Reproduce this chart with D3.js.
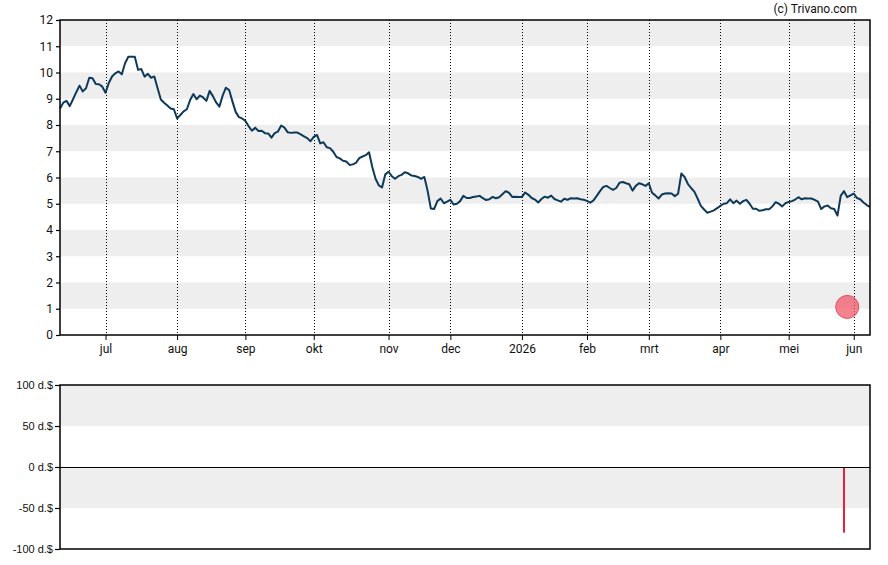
<!DOCTYPE html>
<html>
<head>
<meta charset="utf-8">
<script src="https://cdn.jsdelivr.net/npm/d3@7"></script>
<style>
  body { margin: 0; background: #fff; }
  svg { display: block; }
</style>
</head>
<body>
<script>
// slotkoersen per handelsdag (ca. 10 jun 2025 t/m 8 jun 2026)
const prices = [
  8.63, 8.85, 8.92, 8.72, 8.98, 9.25, 9.50, 9.28, 9.40, 9.80,
  9.78, 9.56, 9.55, 9.46, 9.23, 9.60, 9.85, 9.97, 10.04, 9.93,
  10.35, 10.60, 10.60, 10.60, 10.10, 10.13, 9.84, 9.95, 9.80, 9.85,
  9.40, 8.97, 8.85, 8.74, 8.63, 8.60, 8.25, 8.38, 8.52, 8.60,
  8.95, 9.18, 8.98, 9.12, 9.05, 8.92, 9.30, 9.10, 8.86, 8.70,
  9.12, 9.42, 9.33, 8.90, 8.50, 8.30, 8.25, 8.15, 7.95, 7.78,
  7.90, 7.77, 7.78, 7.69, 7.68, 7.52, 7.69, 7.75, 7.98, 7.90,
  7.72, 7.70, 7.71, 7.71, 7.64, 7.57, 7.50, 7.38, 7.55, 7.62,
  7.30, 7.34, 7.15, 7.12, 6.98, 6.78, 6.73, 6.64, 6.61, 6.48,
  6.50, 6.56, 6.74, 6.80, 6.85, 6.96, 6.40, 5.95, 5.70, 5.62,
  6.12, 6.22, 6.05, 5.95, 6.05, 6.10, 6.20, 6.16, 6.08, 6.06,
  6.02, 5.95, 6.02, 5.50, 4.82, 4.80, 5.10, 5.20, 5.02, 5.08,
  5.15, 4.97, 5.00, 5.10, 5.30, 5.22, 5.22, 5.26, 5.28, 5.30,
  5.21, 5.14, 5.17, 5.26, 5.21, 5.25, 5.36, 5.48, 5.42, 5.26,
  5.27, 5.26, 5.26, 5.43, 5.34, 5.22, 5.16, 5.05, 5.18, 5.27,
  5.23, 5.31, 5.18, 5.13, 5.08, 5.19, 5.15, 5.21, 5.20, 5.21,
  5.17, 5.15, 5.11, 5.04, 5.13, 5.30, 5.48, 5.64, 5.68, 5.60,
  5.53, 5.60, 5.80, 5.83, 5.78, 5.74, 5.50, 5.68, 5.78, 5.74,
  5.68, 5.78, 5.42, 5.32, 5.20, 5.35, 5.39, 5.40, 5.39, 5.29,
  5.38, 6.15, 6.02, 5.76, 5.60, 5.46, 5.20, 4.92, 4.78, 4.66,
  4.70, 4.75, 4.83, 4.92, 5.00, 5.02, 5.17, 5.02, 5.12, 5.00,
  5.10, 5.15, 5.00, 4.81, 4.81, 4.73, 4.75, 4.79, 4.79, 4.90,
  5.06, 5.00, 4.90, 5.02, 5.07, 5.10, 5.16, 5.25, 5.17, 5.21,
  5.20, 5.20, 5.15, 5.08, 4.80, 4.90, 4.93, 4.83, 4.80, 4.55,
  5.30, 5.48, 5.25, 5.32, 5.39, 5.22, 5.17, 5.05, 4.95, 4.88
];

// maandlabels en de handelsdag waarop elke maand begint
const monthLabels = ["jul", "aug", "sep", "okt", "nov", "dec", "2026", "feb", "mrt", "apr", "mei", "jun"];
const monthStarts = [14, 36, 57, 78, 101, 120, 142, 162, 181, 203, 224, 244];

const priceTicks = [0, 1, 2, 3, 4, 5, 6, 7, 8, 9, 10, 11, 12];
const priceBands = [[1, 2], [3, 4], [5, 6], [7, 8], [9, 10], [11, 12]];

// signaal (rode stip) en dividend-balk
const signalIndex = 242;
const signalValue = 1.07;
const dividendIndex = 241;
const dividendValue = -80;

const divTicks = [100, 50, 0, -50, -100];
const divBands = [[50, 100], [-50, 0]];

const width = 888, height = 565;
const left = 60, right = 870;

const svg = d3.select("body").append("svg")
    .attr("width", width)
    .attr("height", height);

const x = d3.scaleLinear()
    .domain([0, prices.length - 1])
    .range([left, right]);

// ---- bovenste grafiek (koers) ----
const yTop = 20, yBottom = 335;
const y = d3.scaleLinear().domain([0, 12]).range([yBottom, yTop]);

svg.append("g")
    .selectAll("rect")
    .data(priceBands)
    .enter()
    .append("rect")
    .attr("x", left)
    .attr("width", right - left)
    .attr("y", d => y(d[1]))
    .attr("height", d => y(d[0]) - y(d[1]))
    .attr("fill", "#eeeeee");

svg.append("g")
    .selectAll("line")
    .data(monthStarts)
    .enter()
    .append("line")
    .attr("x1", d => Math.round(x(d)) + 0.5)
    .attr("x2", d => Math.round(x(d)) + 0.5)
    .attr("y1", yTop)
    .attr("y2", yBottom)
    .attr("stroke", "#000")
    .attr("stroke-width", 1)
    .attr("stroke-dasharray", "1,2");

const line = d3.line()
    .x((d, i) => x(i))
    .y(d => y(d));

svg.append("path")
    .datum(prices)
    .attr("fill", "none")
    .attr("stroke", "#0e3a5a")
    .attr("stroke-width", 2)
    .attr("stroke-linejoin", "round")
    .attr("d", line);

svg.append("circle")
    .attr("cx", x(signalIndex))
    .attr("cy", y(signalValue))
    .attr("r", 11.5)
    .attr("fill", "rgba(240, 90, 105, 0.75)")
    .attr("stroke", "#e2505e")
    .attr("stroke-width", 1);

// kader
svg.append("rect")
    .attr("x", left)
    .attr("y", yTop)
    .attr("width", right - left)
    .attr("height", yBottom - yTop)
    .attr("fill", "none")
    .attr("stroke", "#000")
    .attr("stroke-width", 1.5);

const yAxis = d3.axisLeft(y)
    .tickValues(priceTicks)
    .tickFormat(d3.format("d"))
    .tickSize(4)
    .tickPadding(3);

svg.append("g")
    .attr("transform", `translate(${left},0)`)
    .call(yAxis)
    .call(g => g.select(".domain").remove())
    .call(g => g.selectAll("line").attr("stroke-width", 1.2))
    .selectAll("text")
    .attr("font-family", "Roboto, sans-serif")
    .attr("font-size", "12px")
    .attr("fill", "#111");

const xAxis = d3.axisBottom(x)
    .tickValues(monthStarts)
    .tickFormat((d, i) => monthLabels[i])
    .tickSize(5)
    .tickPadding(4);

svg.append("g")
    .attr("transform", `translate(0,${yBottom})`)
    .call(xAxis)
    .call(g => g.select(".domain").remove())
    .selectAll("text")
    .attr("font-family", "Roboto, sans-serif")
    .attr("font-size", "12px")
    .attr("fill", "#111");

svg.append("text")
    .attr("x", 857)
    .attr("y", 13)
    .attr("text-anchor", "end")
    .attr("font-family", "Roboto, sans-serif")
    .attr("font-size", "12px")
    .attr("fill", "#111")
    .text("(c) Trivano.com");

// ---- onderste grafiek (dividend) ----
const dTop = 385, dBottom = 549;
const yd = d3.scaleLinear().domain([-100, 100]).range([dBottom, dTop]);

svg.append("g")
    .selectAll("rect")
    .data(divBands)
    .enter()
    .append("rect")
    .attr("x", left)
    .attr("width", right - left)
    .attr("y", d => yd(d[1]))
    .attr("height", d => yd(d[0]) - yd(d[1]))
    .attr("fill", "#eeeeee");

svg.append("line")
    .attr("x1", x(dividendIndex))
    .attr("x2", x(dividendIndex))
    .attr("y1", yd(0))
    .attr("y2", yd(dividendValue))
    .attr("stroke", "#e8203a")
    .attr("stroke-width", 2);

// nullijn, op de pixel uitgelijnd
svg.append("line")
    .attr("x1", left)
    .attr("x2", right)
    .attr("y1", Math.round(yd(0)) + 0.5)
    .attr("y2", Math.round(yd(0)) + 0.5)
    .attr("stroke", "#000")
    .attr("stroke-width", 1);

svg.append("rect")
    .attr("x", left)
    .attr("y", dTop)
    .attr("width", right - left)
    .attr("height", dBottom - dTop)
    .attr("fill", "none")
    .attr("stroke", "#000")
    .attr("stroke-width", 1.5);

const dAxis = d3.axisLeft(yd)
    .tickValues(divTicks)
    .tickFormat(d => d + " d.$")
    .tickSize(5)
    .tickPadding(2);

svg.append("g")
    .attr("transform", `translate(${left},0)`)
    .call(dAxis)
    .call(g => g.select(".domain").remove())
    .call(g => g.selectAll("line").attr("stroke-width", 1.2))
    .selectAll("text")
    .attr("font-family", "'Liberation Sans', Arial, sans-serif")
    .attr("font-size", "11px")
    .attr("fill", "#111");
</script>
</body>
</html>
